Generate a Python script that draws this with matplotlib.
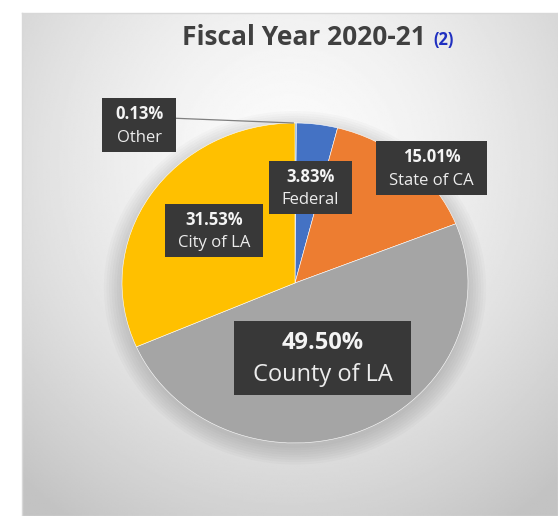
#!/usr/bin/env python3
import numpy as np
import matplotlib
matplotlib.use("Agg")
import matplotlib.pyplot as plt
from matplotlib.patches import Ellipse, Rectangle
from matplotlib.transforms import offset_copy, Bbox

# data (clockwise from 12 o'clock)
sources = ["Other", "Federal", "State of CA", "County of LA", "City of LA"]
shares = [0.13, 3.83, 15.01, 49.50, 31.53]
colors = ["#5B9BD5", "#4472C4", "#ED7D31", "#A5A5A5", "#FFC000"]

# label box centres in pie data coords (layout only)
label_pos = [(-0.90, 0.99), (0.09, 0.60), (0.79, 0.72), (0.16, -0.46), (-0.47, 0.33)]
label_size = [12, 12, 12, 17, 12]

W, H = 558, 516
fig = plt.figure(figsize=(W / 100, H / 100), dpi=100)
fig.patch.set_facecolor("white")

# background panel with radial gradient
bg = fig.add_axes([22 / W, 0, 1 - 22 / W, 1 - 13 / H])
yy, xx = np.mgrid[0:300, 0:300] / 299.0
r = np.sqrt(((xx - 0.5) / 0.75) ** 2 + ((yy - 0.30) / 0.85) ** 2)
shade = 0.985 - 0.22 * np.clip(r, 0, 1) ** 1.6
bg.imshow(shade, cmap="gray", vmin=0, vmax=1, extent=[0, 1, 0, 1],
          origin="upper", aspect="auto", interpolation="bilinear")
bg.set_xlim(0, 1)
bg.set_ylim(0, 1)
bg.set_xticks([])
bg.set_yticks([])
for s in bg.spines.values():
    s.set_color("#d8d8d8")
    s.set_linewidth(1)

# pie axes: centre (295, 283) px, radii 173 x 160 px
cx, cy, rx, ry = 295, 283, 173, 160
ax = fig.add_axes([(cx - rx) / W, (H - cy - ry) / H, 2 * rx / W, 2 * ry / H])
ax.patch.set_alpha(0)

# soft shadow
for k in range(8):
    ax.add_patch(Ellipse((0.0, -0.03), 2.0 + 0.03 * k, 2.0 + 0.03 * k,
                         color="black", alpha=0.018, lw=0, zorder=0,
                         clip_on=False))

wedges, _ = ax.pie(shares, colors=colors, startangle=90, counterclock=False,
                   wedgeprops=dict(edgecolor="white", linewidth=0.4))
for w in wedges:
    w.set_zorder(2)
ax.set_aspect("auto")
ax.set_xlim(-1, 1)
ax.set_ylim(-1, 1)
ax.axis("off")

# leader line for Other
ax.plot([-0.70, -0.01], [1.03, 1.0], color="#7f7f7f", lw=0.9, zorder=3, clip_on=False)

# labels: percentage line + name line, dark box behind
pairs = []
for name, val, (lx, ly), fs in zip(sources, shares, label_pos, label_size):
    t1 = ax.text(lx, ly, f"{val:.2f}%", ha="center", va="baseline", fontsize=fs,
                 fontweight="bold", color="#f4f4f4", family="Open Sans",
                 zorder=6, clip_on=False,
                 transform=offset_copy(ax.transData, fig=fig, x=0, y=0.32 * fs,
                                       units="points"))
    t2 = ax.text(lx, ly, name, ha="center", va="baseline", fontsize=fs,
                 color="#ececec", family="Open Sans", zorder=6, clip_on=False,
                 transform=offset_copy(ax.transData, fig=fig, x=0, y=-1.03 * fs,
                                       units="points"))
    pairs.append((t1, t2, fs))

fig.canvas.draw()
renderer = fig.canvas.get_renderer()
inv = ax.transData.inverted()
for t1, t2, fs in pairs:
    b = Bbox.union([t1.get_window_extent(renderer), t2.get_window_extent(renderer)])
    k = fs / 12.0
    x0, y0 = b.x0 - 13 * k, b.y0 - 6 * k
    x1, y1 = b.x1 + 13 * k, b.y1 + 7 * k
    (dx0, dy0), (dx1, dy1) = inv.transform([(x0, y0), (x1, y1)])
    ax.add_patch(Rectangle((dx0, dy0), dx1 - dx0, dy1 - dy0, facecolor="#383838",
                           edgecolor="none", zorder=5, clip_on=False))

# title
fig.text(182 / W, 1 - 45 / H, "Fiscal Year 2020-21", ha="left", va="baseline",
         fontsize=19, fontweight="bold", color="#404040", family="Open Sans")
fig.text(433 / W, 1 - 45 / H, "(2)", ha="left", va="baseline",
         fontsize=12, fontweight="bold", color="#2030c0", family="Open Sans")

fig.savefig("out.png", dpi=100)
